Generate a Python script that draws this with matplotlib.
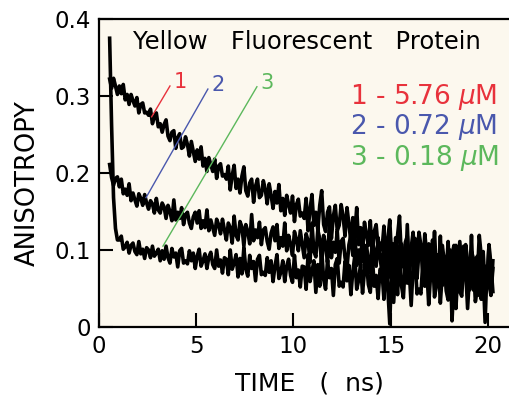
import numpy as np
import matplotlib
matplotlib.use("Agg")
import matplotlib.pyplot as plt

# sampling grid (ns)
t_start, t_step, n_pts = 0.55, 0.1, 198

# anisotropy values (x 1e-3)
curve1 = [322, 310, 323, 313, 302, 313, 303, 315, 295, 302,
          289, 302, 294, 287, 298, 278, 289, 291, 278, 279,
          275, 283, 264, 273, 278, 260, 264, 253, 263, 269,
          248, 242, 253, 255, 232, 246, 251, 232, 234, 247,
          237, 222, 241, 228, 215, 230, 218, 234, 209, 219,
          202, 220, 211, 202, 218, 193, 209, 212, 196, 198,
          192, 209, 178, 197, 210, 180, 192, 174, 196, 208,
          177, 170, 187, 192, 162, 183, 192, 168, 171, 190,
          179, 160, 186, 171, 154, 176, 161, 185, 151, 167,
          145, 171, 159, 148, 170, 137, 159, 166, 144, 148,
          141, 167, 125, 153, 172, 132, 149, 126, 158, 177,
          133, 124, 149, 156, 115, 144, 158, 125, 132, 159,
          144, 118, 155, 134, 110, 142, 120, 155, 107, 129,
          99, 136, 120, 106, 138, 92, 124, 133, 103, 109,
          100, 131, 79, 114, 139, 87, 108, 78, 119, 144,
          88, 78, 110, 118, 66, 103, 123, 80, 89, 123,
          106, 74, 121, 95, 65, 106, 80, 124, 67, 94,
          58, 106, 86, 70, 111, 53, 94, 106, 70, 80,
          111, 76, 65, 107, 86, 48, 98, 89, 56, 65,
          119, 93, 50, 79, 57, 107, 81, 46]

curve2 = [211, 194, 184, 193, 195, 182, 192, 173, 179, 171,
          186, 164, 174, 165, 157, 173, 167, 158, 172, 161,
          153, 164, 160, 148, 167, 152, 148, 161, 156, 141,
          158, 150, 138, 165, 139, 149, 141, 155, 133, 146,
          149, 135, 128, 143, 149, 135, 151, 128, 138, 129,
          152, 125, 139, 129, 119, 140, 133, 121, 140, 126,
          113, 135, 129, 109, 144, 119, 113, 137, 130, 105,
          133, 124, 108, 146, 112, 126, 116, 136, 107, 126,
          129, 111, 101, 122, 130, 112, 133, 102, 116, 105,
          135, 99, 119, 107, 93, 124, 114, 99, 125, 107,
          90, 121, 112, 84, 135, 98, 91, 126, 115, 80,
          119, 107, 84, 138, 90, 110, 97, 125, 83, 111,
          115, 90, 76, 107, 119, 93, 123, 80, 100, 84,
          126, 76, 106, 87, 70, 113, 99, 79, 116, 90,
          71, 108, 98, 63, 126, 81, 72, 116, 103, 58,
          108, 92, 62, 133, 71, 97, 80, 115, 63, 98,
          103, 71, 54, 93, 108, 76, 113, 59, 84, 64,
          118, 54, 92, 69, 47, 100, 84, 59, 106, 74,
          89, 54, 105, 69, 85, 59, 119, 48, 77, 92,
          41, 85, 98, 53, 61, 106, 42, 76]

curve3 = [375, 262, 168, 128, 113, 113, 118, 101, 104, 110,
          96, 106, 109, 98, 94, 111, 95, 101, 89, 103,
          100, 90, 105, 92, 96, 101, 86, 99, 88, 105,
          90, 83, 102, 91, 96, 78, 99, 102, 83, 86,
          82, 99, 86, 96, 76, 92, 101, 79, 86, 95,
          76, 91, 97, 81, 76, 100, 79, 87, 70, 90,
          88, 68, 100, 75, 83, 94, 65, 89, 69, 103,
          75, 66, 93, 76, 85, 60, 88, 93, 68, 71,
          67, 90, 71, 86, 59, 79, 94, 63, 71, 86,
          59, 79, 88, 67, 58, 93, 64, 74, 52, 79,
          78, 49, 94, 59, 72, 86, 45, 81, 53, 100,
          62, 49, 87, 64, 76, 41, 81, 89, 53, 58,
          52, 85, 60, 80, 42, 72, 92, 49, 61, 82,
          44, 73, 86, 55, 45, 93, 53, 67, 37, 75,
          72, 36, 94, 49, 4, 83, 32, 77, 42, 103,
          54, 38, 86, 57, 73, 28, 78, 88, 43, 49,
          43, 85, 53, 77, 29, 68, 93, 39, 55, 80,
          31, 70, 86, 47, 35, 95, 8, 62, 24, 72,
          46, 40, 85, 75, 24, 68, 52, 81, 33, 49,
          97, 36, 70, 6, 76, 57, 41, 86]

legend_labels = ["1 - 5.76 $\\mu$M", "2 - 0.72 $\\mu$M", "3 - 0.18 $\\mu$M"]
curve_ids = ["1", "2", "3"]
colors = ["#e8323c", "#4a58ad", "#5cb85c"]
x_ticks = [0, 5, 10, 15, 20]
y_ticks = [0, 0.1, 0.2, 0.3, 0.4]
y_ticklabels = ["0", "0.1", "0.2", "0.3", "0.4"]

t = t_start + t_step * np.arange(n_pts)

fig = plt.figure(figsize=(5.10, 4.04), dpi=100)
ax = fig.add_axes([0.194, 0.1906, 0.806, 0.7624])
ax.set_facecolor("#fcf8ee")

for c in (curve1, curve2, curve3):
    ax.plot(t, np.array(c) / 1000.0, color="black", lw=2.6, solid_joinstyle="round")

ax.set_xlim(0, 21.13)
ax.set_ylim(0, 0.4)
ax.set_xticks(x_ticks)
ax.set_yticks(y_ticks)
ax.set_yticklabels(y_ticklabels)
ax.tick_params(direction="in", length=10, width=1.5, labelsize=16.5, pad=6)
for s in ["left", "bottom", "top"]:
    ax.spines[s].set_linewidth(1.6)
ax.spines["right"].set_visible(False)

ax.set_xlabel("TIME   (  ns)", fontsize=18)
ax.xaxis.set_label_coords(0.511, -0.182)
ax.xaxis.label.set_va("center")
ax.set_ylabel("ANISOTROPY", fontsize=18.5)
ax.yaxis.set_label_coords(-0.173, 0.468)
ax.yaxis.label.set_va("center")

ax.text(1.75, 0.370, "Yellow   Fluorescent   Protein", fontsize=17.5, va="center", ha="left")

# pointer lines and numbers
ptr_start = [(2.71, 0.273), (2.42, 0.168), (3.29, 0.105)]
ptr_end = [(3.65, 0.313), (5.60, 0.309), (8.12, 0.312)]
for (x0, y0), (x1, y1), lab, col in zip(ptr_start, ptr_end, curve_ids, colors):
    ax.plot([x0, x1], [y0, y1], color=col, lw=1.0)
    ax.text(x1 + 0.2, y1 + 0.005, lab, color=col, fontsize=15, ha="left", va="center")

legend_y = [0.299, 0.260, 0.220]
for yv, lab, col in zip(legend_y, legend_labels, colors):
    ax.text(12.9, yv, lab, color=col, fontsize=19, ha="left", va="center")

fig.savefig("out.png", dpi=100)
